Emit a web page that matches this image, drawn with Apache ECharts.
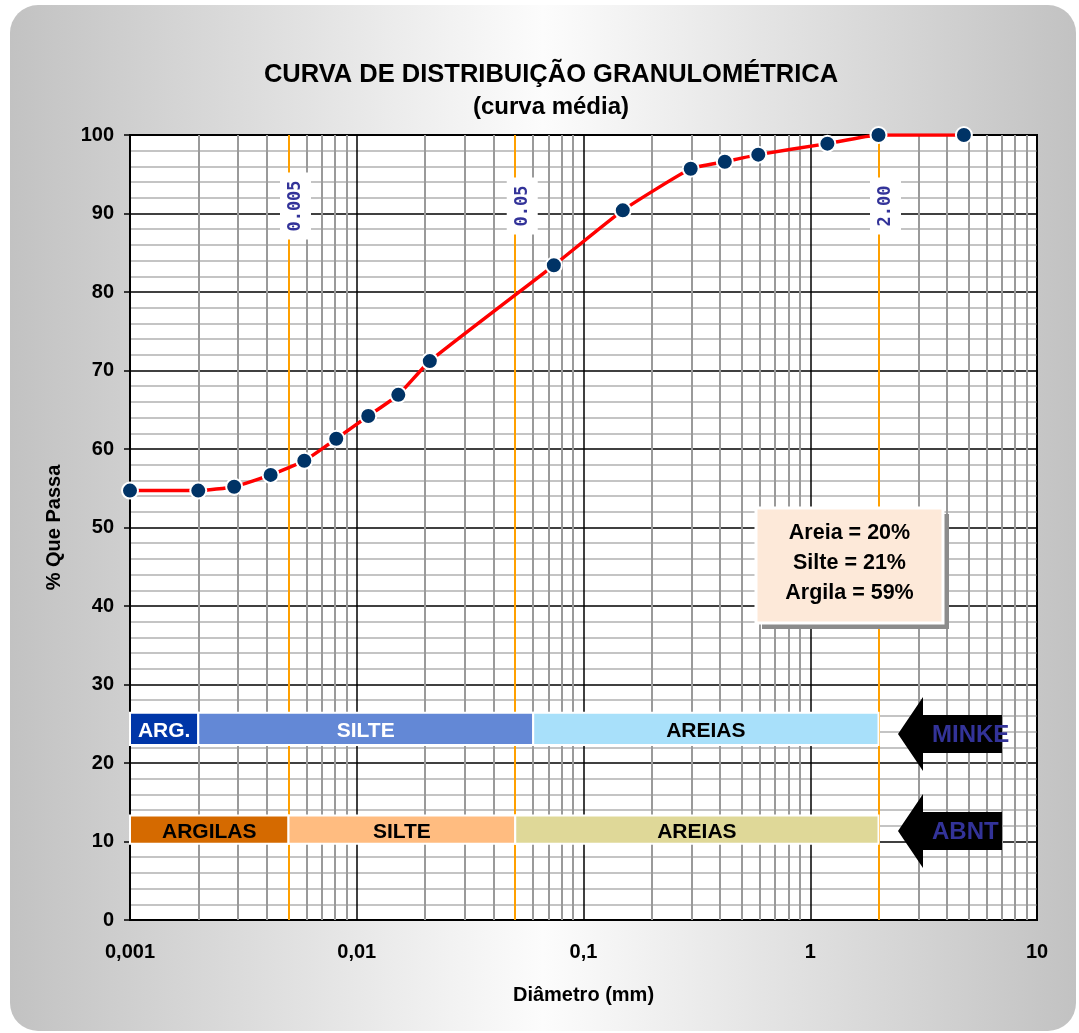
<!DOCTYPE html>
<html>
<head>
<meta charset="utf-8">
<title>Curva granulométrica</title>
<script src="https://cdn.jsdelivr.net/npm/echarts@6/dist/echarts.min.js"></script>
<style>
  html, body { margin: 0; padding: 0; background: #fff; }
  #grafico { width: 1079px; height: 1033px; }
</style>
</head>
<body>
<div id="grafico"></div>
<script>
// diâmetro dos grãos (mm) e % que passa
var diametros = [0.001, 0.002, 0.00288, 0.00417, 0.00587, 0.00812, 0.01124, 0.01525, 0.0210, 0.074, 0.149, 0.297, 0.42, 0.59, 1.19, 2.0, 4.76];
var passando  = [54.7, 54.7, 55.2, 56.7, 58.5, 61.3, 64.2, 66.9, 71.2, 83.4, 90.4, 95.7, 96.6, 97.5, 98.9, 100, 100];

// limites das frações (linhas laranja)
var limites = [0.005, 0.05, 2.0];
var limitesTexto = ['0.005', '0.05', '2.00'];

// escala MINKE
var minkeNomes = ['ARG.', 'SILTE', 'AREIAS'];
var minkeLimites = [0.001, 0.002, 0.06, 2.0];
var minkeFaixa = [22.3, 26.4];
var minkeCores = ['#0036a8', '#6388d6', '#a8e0fa'];
var minkeTextoCor = ['#fff', '#fff', '#000'];

// escala ABNT
var abntNomes = ['ARGILAS', 'SILTE', 'AREIAS'];
var abntLimites = [0.001, 0.005, 0.05, 2.0];
var abntFaixa = [9.7, 13.3];
var abntCores = ['#d56a00', '#ffbc80', '#dfd898'];

var resumo = ['Areia = 20%', 'Silte = 21%', 'Argila = 59%'];
var xTicks = ['0,001', '0,01', '0,1', '1', '10'];

var fonte = '"Liberation Sans", Arial, sans-serif';

// linhas verticais secundárias (2..9 de cada década)
var linhasMenores = [];
for (var d = -3; d < 1; d++) {
    for (var k = 2; k <= 9; k++) {
        linhasMenores.push({ xAxis: k * Math.pow(10, d) });
    }
}

function faixas(nomes, lims, faixa, cores, textoCor) {
    var out = [];
    for (var i = 0; i < nomes.length; i++) {
        out.push([
            {
                name: nomes[i], xAxis: lims[i], yAxis: faixa[0],
                itemStyle: { color: cores[i] },
                label: { color: textoCor ? textoCor[i] : '#000' }
            },
            { xAxis: lims[i + 1], yAxis: faixa[1] }
        ]);
    }
    return out;
}

var chart = echarts.init(document.getElementById('grafico'));

var option = {
    animation: false,
    textStyle: { fontFamily: fonte },
    title: {
        text: 'CURVA DE DISTRIBUIÇÃO GRANULOMÉTRICA',
        subtext: '(curva média)',
        left: 546,
        textAlign: 'center',
        top: 57,
        itemGap: 7,
        textStyle: { fontSize: 25.5, fontWeight: 'bold', color: '#000', fontFamily: fonte },
        subtextStyle: { fontSize: 24, fontWeight: 'bold', color: '#000', fontFamily: fonte }
    },
    grid: {
        left: 130, top: 135, right: 42, bottom: 113,
        show: true, backgroundColor: '#fff', borderColor: '#000', borderWidth: 2
    },
    xAxis: {
        type: 'log',
        logBase: 10,
        min: 0.001,
        max: 10,
        name: 'Diâmetro (mm)',
        nameLocation: 'middle',
        nameGap: 65,
        nameTextStyle: { fontSize: 20, fontWeight: 'bold', color: '#000' },
        axisLine: { lineStyle: { color: '#000', width: 2 } },
        axisTick: { show: false },
        axisLabel: {
            fontSize: 20, fontWeight: 'bold', color: '#000', margin: 22,
            formatter: function (v) {
                return xTicks[Math.round(Math.log10(v)) + 3];
            }
        },
        splitLine: { show: true, lineStyle: { color: '#000', width: 1.5 } }
    },
    yAxis: {
        type: 'value',
        min: 0,
        max: 100,
        interval: 10,
        name: '% Que Passa',
        nameLocation: 'middle',
        nameRotate: 90,
        nameGap: 66,
        nameTextStyle: { fontSize: 20, fontWeight: 'bold', color: '#000' },
        axisLine: { show: true, lineStyle: { color: '#000', width: 2 } },
        axisTick: { show: true, length: 6, lineStyle: { color: '#000', width: 1.5 } },
        axisLabel: { fontSize: 20, fontWeight: 'bold', color: '#000', margin: 16 },
        splitLine: { lineStyle: { color: '#000', width: 1.5 } },
        minorTick: { show: false, splitNumber: 5 },
        minorSplitLine: { show: true, lineStyle: { color: '#c4c4c4', width: 2 } }
    },
    graphic: [
        {
            type: 'rect', id: 'fundo', z: -10, silent: true,
            shape: { x: 10, y: 5, width: 1066, height: 1026, r: 28 },
            style: {
                fill: new echarts.graphic.LinearGradient(0, 0, 1, 0, [
                    { offset: 0, color: '#c2c2c2' },
                    { offset: 0.5, color: '#fcfcfc' },
                    { offset: 1, color: '#c2c2c2' }
                ])
            }
        }
    ],
    series: [
        {
            // grade secundária vertical
            type: 'line', data: [], z: 1, silent: true,
            markLine: {
                silent: true, symbol: 'none', animation: false, precision: 10, z: 1,
                label: { show: false },
                lineStyle: { color: '#9a9a9a', width: 2, type: 'solid' },
                data: linhasMenores
            }
        },
        {
            // limites 0.005 / 0.05 / 2.00
            type: 'line', data: [], z: 2, silent: true,
            markLine: {
                silent: true, symbol: 'none', animation: false, precision: 10, z: 2,
                label: { show: false },
                lineStyle: { color: '#ffa000', width: 2, type: 'solid' },
                data: limites.map(function (v) { return { xAxis: v }; })
            }
        },
        {
            // faixas MINKE e ABNT
            type: 'line', data: [], z: 3, silent: true,
            markArea: {
                silent: true, z: 3,
                itemStyle: { borderColor: '#fff', borderWidth: 2, opacity: 1 },
                label: {
                    show: true, position: 'inside', fontSize: 21, fontWeight: 'bold',
                    fontFamily: fonte, offset: [0, 2]
                },
                data: faixas(minkeNomes, minkeLimites, minkeFaixa, minkeCores, minkeTextoCor)
                    .concat(faixas(abntNomes, abntLimites, abntFaixa, abntCores, null))
            }
        },
        {
            name: 'Curva média',
            type: 'line',
            z: 5,
            smooth: 0.15,
            data: diametros.map(function (x, i) { return [x, passando[i]]; }),
            symbol: 'circle',
            symbolSize: 16,
            lineStyle: { color: '#ff0000', width: 3.5 },
            itemStyle: { color: '#003366', borderColor: '#fff', borderWidth: 2 }
        }
    ]
};

chart.setOption(option);

// rótulos das linhas-limite, setas e quadro de resumo
var extras = [];
limites.forEach(function (v, i) {
    var p = chart.convertToPixel({ gridIndex: 0 }, [v, 100]);
    extras.push({
        type: 'text', id: 'lim' + i, z: 10, silent: true,
        x: p[0] + 7, y: 206, rotation: Math.PI / 2,
        style: {
            text: limitesTexto[i],
            font: 'bold 17px "DejaVu Sans Mono", monospace',
            fill: '#333399', align: 'center', verticalAlign: 'middle',
            backgroundColor: '#fff', padding: [7, 8]
        }
    });
});

function seta(id, yc, texto) {
    return [
        {
            type: 'polygon', id: id + 'seta', z: 10, silent: true,
            shape: {
                points: [[898, yc], [923, yc - 37], [923, yc - 19], [1002, yc - 19],
                         [1002, yc + 19], [923, yc + 19], [923, yc + 37]]
            },
            style: { fill: '#000' }
        },
        {
            type: 'text', id: id + 'txt', z: 11, silent: true,
            x: 932, y: yc + 1,
            style: {
                text: texto, font: 'bold 24px ' + fonte, fill: '#333399',
                align: 'left', verticalAlign: 'middle'
            }
        }
    ];
}
extras = extras.concat(seta('minke', 734, 'MINKE'), seta('abnt', 831, 'ABNT'));

// quadro de resumo com sombra
extras.push({
    type: 'rect', id: 'quadroSombra', z: 9, silent: true,
    shape: { x: 762, y: 514, width: 187, height: 115 },
    style: { fill: '#8c8c8c' }
});
extras.push({
    type: 'rect', id: 'quadro', z: 10, silent: true,
    shape: { x: 756, y: 508, width: 187, height: 115 },
    style: { fill: '#fde9d9', stroke: '#fff', lineWidth: 3 }
});
extras.push({
    type: 'text', id: 'quadroTxt', z: 11, silent: true,
    x: 849.5, y: 563,
    style: {
        text: resumo.join('\n'), font: 'bold 21.5px ' + fonte, fill: '#000',
        align: 'center', verticalAlign: 'middle', lineHeight: 30
    }
});

chart.setOption({ graphic: extras });
</script>
</body>
</html>
